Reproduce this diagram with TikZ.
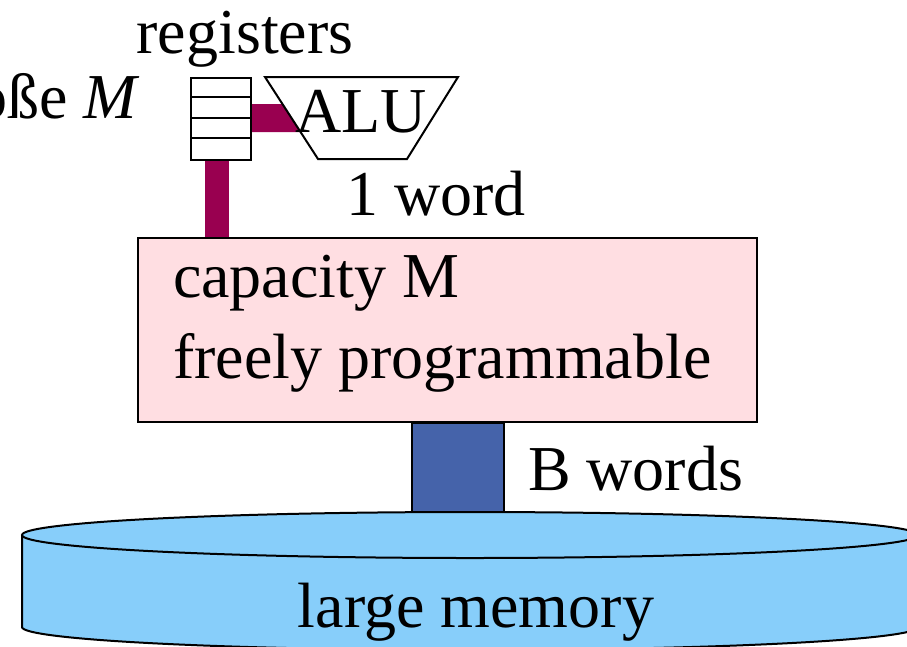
\documentclass[tikz,border=0pt]{standalone}
\usepackage{fontspec}
\setmainfont{Liberation Serif}
\usetikzlibrary{positioning}
\definecolor{busred}{RGB}{153,0,80}
\definecolor{busblue}{RGB}{69,99,170}
\definecolor{cachepink}{RGB}{255,222,226}
\definecolor{diskblue}{RGB}{135,206,250}
\tikzset{lbl/.style={font=\fontsize{64}{70}\selectfont, inner sep=0pt}}

\begin{document}
\begin{tikzpicture}[x=1pt, y=-1pt, line width=2pt]
    \useasboundingbox (0,0) rectangle (907,646);
    \fill[diskblue] (22,535) -- (22,627) arc[start angle=180, end angle=0, x radius=448, y radius=23]
        -- (918,535) arc[start angle=0, end angle=-180, x radius=448, y radius=23] -- cycle;
    \draw (22,535) -- (22,627) arc[start angle=180, end angle=0, x radius=448, y radius=23] -- (918,535);
    \draw (470,535) ellipse[x radius=448, y radius=23];
    \node[lbl, anchor=base] (mem) at (476,627) {large memory};
    \node[draw, fill=cachepink, minimum width=619, minimum height=184, anchor=north west, inner sep=0pt] (cache) at (137,237) {};
    \filldraw[fill=busblue] (412,0 |- cache.south) rectangle (504,512);
    \node[lbl, anchor=base west] (cap) at (172,297) {capacity M};
    \node[lbl, anchor=base west] (prog) at (172,378) {freely programmable};
    \node[lbl, anchor=base west] (bw) at (527,490) {B words};
    \node[draw, minimum width=60, minimum height=82, anchor=north west, inner sep=0pt] (regs) at (190,77) {};
    \foreach \y in {97,118,138}
        \draw (190,\y) -- (250,\y);
    \fill[busred] ([xshift=15pt]regs.south west) rectangle (229,0 |- cache.north);
    \fill[busred] (regs.east |- 0,104) -- (283,104) -- (301,132) -- (regs.east |- 0,132) -- cycle;
    \draw (265,77) -- (458,77) -- (407,159) -- (318,159) -- cycle;
    \node[lbl, anchor=base] (alu) at (361,132) {ALU};
    \node[lbl, anchor=base] (reglbl) at (245,53) {registers};
    \node[lbl, anchor=base east] (size) at (141,118) {Größe \textit{M}};
    \node[lbl, anchor=base west] (word) at (345,215) {1 word};
\end{tikzpicture}
\end{document}
